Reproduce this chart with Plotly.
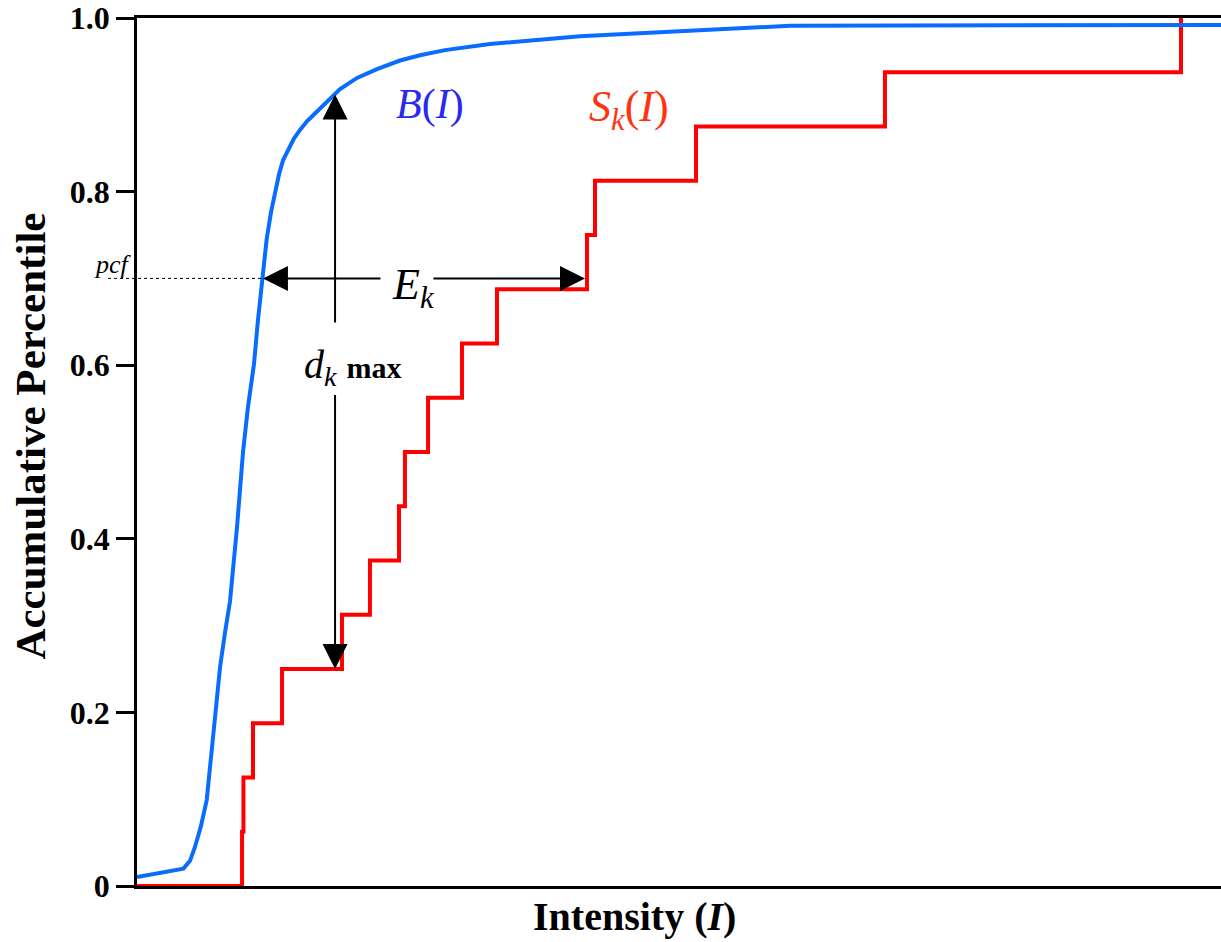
import plotly.graph_objects as go

# ---- data ----
# Background cumulative distribution B(I)
b_intensity = [0, 4.28, 4.89, 5.35, 5.90, 6.43, 6.89, 7.29, 7.66, 8.12, 8.58, 9.23, 9.78,
               10.24, 10.79, 11.16, 11.58, 11.97, 12.36, 12.73, 13.10, 13.47, 13.93, 14.48,
               15.04, 15.68, 16.42, 17.25, 18.08, 18.73, 20.30, 22.14, 24.26, 26.11, 28.41,
               32.56, 40.87, 60.24, 100.0]
b_percentile = [0.0103, 0.020, 0.029, 0.045, 0.069, 0.099, 0.156, 0.205, 0.252, 0.292, 0.328,
                0.414, 0.500, 0.552, 0.601, 0.652, 0.700, 0.746, 0.776, 0.801, 0.820, 0.836,
                0.848, 0.861, 0.871, 0.881, 0.890, 0.900, 0.910, 0.918, 0.931, 0.941, 0.951,
                0.957, 0.963, 0.970, 0.979, 0.991, 0.992]

# Sample step distribution S_k(I)
s_intensity = [0, 9.69, 9.82, 10.70, 13.38, 18.91, 21.49, 24.17, 24.72, 26.85, 29.98,
               33.21, 41.51, 42.25, 51.57, 69.00, 96.31]
s_percentile = [0, 0.0625, 0.125, 0.1875, 0.25, 0.3125, 0.375, 0.4375, 0.5, 0.5625, 0.625,
                0.6875, 0.75, 0.8125, 0.875, 0.9375, 1.0]

y_tick_vals = [0, 0.2, 0.4, 0.6, 0.8, 1.0]
y_tick_text = ["0", "0.2", "0.4", "0.6", "0.8", "1.0"]

pcf_level = 0.7
pcf_b_intensity = 11.62     # where B(I) reaches pcf
pcf_s_intensity = 41.33     # where S_k(I) reaches pcf
dmax_intensity = 18.27
dmax_b = 0.912
dmax_s = 0.25

SERIF = "Liberation Serif"
W, H = 1221, 942
L, R, T, B = 137, 0, 15, 56

fig = go.Figure()
fig.add_trace(go.Scatter(x=s_intensity, y=s_percentile, mode="lines", line_shape="hv",
                         line=dict(color="#ff0000", width=4), showlegend=False, cliponaxis=False))
fig.add_trace(go.Scatter(x=b_intensity, y=b_percentile, mode="lines", line_shape="linear",
                         line=dict(color="#0a6cff", width=4), showlegend=False))

def px2paper(px):
    return (px - L) / (W - L - R)

def py2paper(py):
    return (H - B - py) / (H - T - B)

annotations = []
arrow_style = dict(showarrow=True, arrowhead=2, arrowsize=2.5, arrowwidth=2, arrowcolor="black",
                   xref="x", yref="y", axref="x", ayref="y", text="", standoff=0, startstandoff=0)
# vertical d_k max arrows
annotations.append(dict(x=dmax_intensity, y=dmax_b, ax=dmax_intensity, ay=0.6475, **arrow_style))
annotations.append(dict(x=dmax_intensity, y=dmax_s, ax=dmax_intensity, ay=0.5675, **arrow_style))
# horizontal E_k arrows
annotations.append(dict(x=pcf_b_intensity, y=pcf_level, ax=22.6, ay=pcf_level, **arrow_style))
annotations.append(dict(x=pcf_s_intensity, y=pcf_level, ax=27.21, ay=pcf_level, **arrow_style))

C = dict(xanchor="center", yanchor="middle", showarrow=False)
# labels
annotations += [
    dict(x=27.03, y=0.90, xref="x", yref="y", **C,
         text="<i>B</i>(<i>I</i>)", font=dict(family=SERIF, size=42, color="#2a2aee")),
    dict(x=45.4, y=0.90, xref="x", yref="y", yshift=-5, **C,
         text="<i>S<sub>k</sub></i>(<i>I</i>)", font=dict(family=SERIF, size=44, color="#ff3311")),
    dict(x=25.5, y=0.695, xref="x", yref="y", yshift=-5, **C,
         text="<i>E<sub>k</sub></i>", font=dict(family=SERIF, size=44, color="black")),
    dict(x=19.9, y=0.604, xref="x", yref="y", yshift=-5, **C,
         text="<i>d<sub>k</sub></i> <span style='font-size:30px'><b>max</b></span>",
         font=dict(family=SERIF, size=40, color="black")),
    dict(x=px2paper(113), y=py2paper(262), xref="paper", yref="paper", **C,
         text="<i>pcf</i>", font=dict(family=SERIF, size=26, color="black")),
    dict(x=px2paper(634), y=py2paper(917), xref="paper", yref="paper", **C,
         text="<b>Intensity (<i>I</i>)</b>", font=dict(family=SERIF, size=40, color="black")),
    dict(x=px2paper(31), y=py2paper(435), xref="paper", yref="paper", textangle=-90, **C,
         text="<b>Accumulative Percentile</b>", font=dict(family=SERIF, size=43, color="black")),
]

shapes = [dict(type="line", xref="paper", yref="y", x0=px2paper(108), x1=px2paper(262),
               y0=pcf_level, y1=pcf_level, line=dict(color="black", width=1, dash="dot"))]

fig.update_layout(
    width=W, height=H, margin=dict(l=L, r=R, t=T, b=B),
    paper_bgcolor="white", plot_bgcolor="white",
    annotations=annotations, shapes=shapes,
    xaxis=dict(range=[0, 100], showgrid=False, zeroline=False, showticklabels=False, ticks="",
               showline=True, linecolor="black", linewidth=3, mirror=True, layer="below traces"),
    yaxis=dict(range=[0, 1.0], showgrid=False, zeroline=False, tickvals=y_tick_vals,
               ticktext=y_tick_text, ticks="outside", ticklen=18, tickwidth=2.5, tickcolor="black",
               showline=True, linecolor="black", linewidth=2.5, mirror=False, layer="below traces",
               ticklabeloverflow="allow",
               tickfont=dict(family=SERIF, size=32, color="black", weight="bold")),
)

fig.write_html("out.html")
